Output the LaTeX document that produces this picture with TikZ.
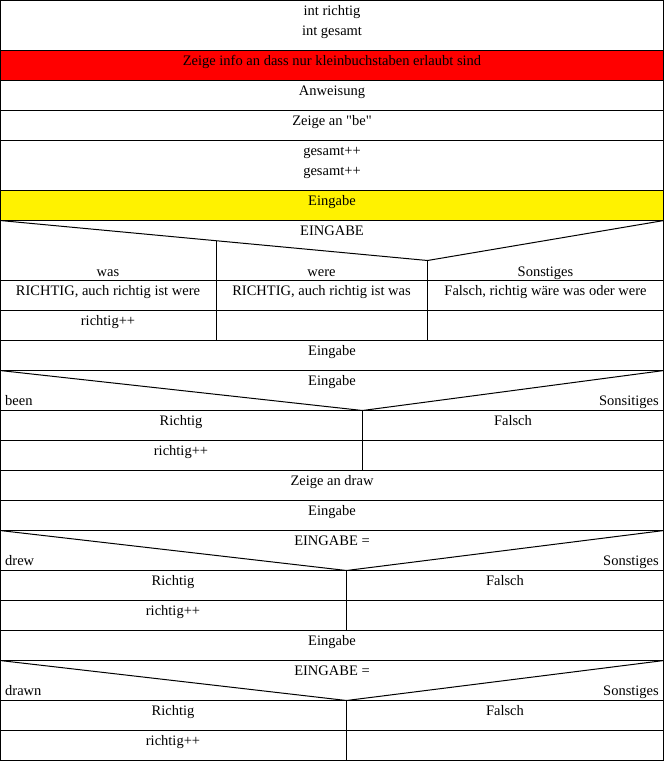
\documentclass[tikz,border=0pt]{standalone}
\usepackage{fontspec}
\setmainfont{Liberation Serif}
\usepackage{tikz}
\usetikzlibrary{positioning,calc}
\tikzset{
        rule/.style = {draw, black, line width=1pt},
        txt/.style = {anchor=base, inner sep=0pt, yshift=-1pt,
            font=\fontsize{14.5}{20}\selectfont},
        lefttxt/.style = {txt, anchor=base west},
        righttxt/.style = {txt, anchor=base east},
    }

\begin{document}
\begin{tikzpicture}[x=1pt, y=-1pt]
		\useasboundingbox (0,0) rectangle (664,761);
		\fill[red]    (0,50) rectangle (664,80);
		\fill[yellow] (0,190) rectangle (664,220);
		\foreach \y in {50,80,110,140,190,220,280,310,340,370,410,440,470,500,530,570,600,630,660,700,730}
			\draw[rule] (0,\y+0.5) -- (664,\y+0.5);
		\draw[rule] (0.5,0.5) rectangle (663.5,760.5);
		% case tips
		\coordinate (TipEingabe) at (427.5,260.5);
		\coordinate (TipBe)      at (362.5,410.5);
		\coordinate (TipDrew)    at (346.5,570.5);
		\coordinate (TipDrawn)   at (346.5,700.5);
		\draw[rule] (0,220.5) -- (TipEingabe) -- (664,220.5);
		\draw[rule] (TipEingabe) -- (427.5,340.5);
		\draw[rule] (216.5,240.8) -- (216.5,340.5);
		\draw[rule] (0,370.5) -- (TipBe) -- (664,370.5);
		\draw[rule] (TipBe) -- (362.5,470.5);
		\draw[rule] (0,530.5) -- (TipDrew) -- (664,530.5);
		\draw[rule] (TipDrew) -- (346.5,630.5);
		\draw[rule] (0,660.5) -- (TipDrawn) -- (664,660.5);
		\draw[rule] (TipDrawn) -- (346.5,761);
		% texts
		\node[txt] (IntRichtig) at (332,14) {int richtig};
		\node[txt] (IntGesamt)  at (332,34) {int gesamt};
		\node[txt] (Info)       at (332,64) {Zeige info an dass nur kleinbuchstaben erlaubt sind};
		\node[txt] (Anweisung)  at (332,94) {Anweisung};
		\node[txt] (ZeigeBe)    at (332,124) {Zeige an \textquotedbl be\textquotedbl};
		\node[txt] (GesamtA)    at (332,154) {gesamt++};
		\node[txt] (GesamtB)    at (332,174) {gesamt++};
		\node[txt] (EingabeA)   at (332,204) {Eingabe};
		\node[txt] (CaseA)      at (332,234) {EINGABE};
		\node[txt] (Was)        at (108,275) {was};
		\node[txt] (Were)       at (321.5,275) {were};
		\node[txt] (SonstA)     at (545.5,275) {Sonstiges};
		\node[txt] (RichtigWas)  at (108,294) {RICHTIG, auch richtig ist were};
		\node[txt] (RichtigWere) at (321.5,294) {RICHTIG, auch richtig ist was};
		\node[txt] (FalschA)     at (545.5,294) {Falsch, richtig wäre was oder were};
		\node[txt] (PlusA)      at (108,324) {richtig++};
		\node[txt] (EingabeB)   at (332,354) {Eingabe};
		\node[txt] (CaseB)      at (332,384) {Eingabe};
		\node[lefttxt]  (Been)   at (5,404) {been};
		\node[righttxt] (SonstB) at (659,404) {Sonsitiges};
		\node[txt] (RichtigB)   at (181,424) {Richtig};
		\node[txt] (FalschB)    at (513,424) {Falsch};
		\node[txt] (PlusB)      at (181,454) {richtig++};
		\node[txt] (ZeigeDraw)  at (332,484) {Zeige an draw};
		\node[txt] (EingabeC)   at (332,514) {Eingabe};
		\node[txt] (CaseC)      at (332,544) {EINGABE =};
		\node[lefttxt]  (Drew)   at (5,564) {drew};
		\node[righttxt] (SonstC) at (659,564) {Sonstiges};
		\node[txt] (RichtigC)   at (173,584) {Richtig};
		\node[txt] (FalschC)    at (505,584) {Falsch};
		\node[txt] (PlusC)      at (173,614) {richtig++};
		\node[txt] (EingabeD)   at (332,644) {Eingabe};
		\node[txt] (CaseD)      at (332,674) {EINGABE =};
		\node[lefttxt]  (Drawn)  at (5,694) {drawn};
		\node[righttxt] (SonstD) at (659,694) {Sonstiges};
		\node[txt] (RichtigD)   at (173,714) {Richtig};
		\node[txt] (FalschD)    at (505,714) {Falsch};
		\node[txt] (PlusD)      at (173,744) {richtig++};
		\end{tikzpicture}
\end{document}
